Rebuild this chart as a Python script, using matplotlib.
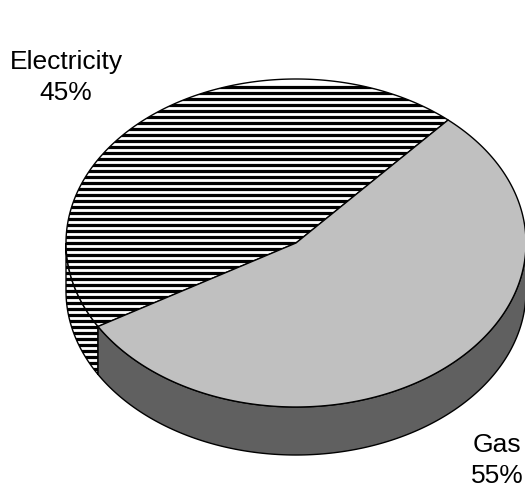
import numpy as np
import matplotlib
matplotlib.use("Agg")
import matplotlib.pyplot as plt
from matplotlib.patches import PathPatch
from matplotlib.path import Path

labels = ["Electricity", "Gas"]
shares = [45, 55]
start_angle = 48.6

CX, CY, RX, RY, DEPTH = 296.0, 243.0, 230.0, 164.0, 48.0
TOP_COLORS = {"Gas": "#c0c0c0"}
SIDE_COLORS = {"Gas": "#606060"}
STRIPE_PERIOD = 6.0

plt.rcParams["font.family"] = ["Liberation Sans", "DejaVu Sans"]
fig = plt.figure(figsize=(5.25, 4.88), dpi=100)
ax = fig.add_axes([0, 0, 1, 1])
ax.set_xlim(0, 525)
ax.set_ylim(488, 0)
ax.axis("off")


def rim(a0, a1, dy=0.0, n=200):
    t = np.radians(np.linspace(a0, a1, n))
    return np.column_stack([CX + RX * np.cos(t), CY + dy - RY * np.sin(t)])


def closed(points):
    codes = [Path.MOVETO] + [Path.LINETO] * (len(points) - 2) + [Path.CLOSEPOLY]
    return Path(points, codes)


def stripes(path, zorder):
    patch = PathPatch(path, fc="white", ec="none", zorder=zorder)
    ax.add_patch(patch)
    rows = np.arange(CY - RY + 7.7, CY + RY + DEPTH, STRIPE_PERIOD)
    lines = ax.hlines(rows, CX - RX - 2, CX + RX + 2, colors="black",
                      linewidth=2.3, zorder=zorder + 0.1)
    lines.set_clip_path(patch)


e_start = start_angle
e_end = e_start + shares[0] * 3.6
g_end = e_end + shares[1] * 3.6

# Side wall of the electricity wedge, visible on the lower left only
wall_e = np.vstack([rim(180, e_end), rim(e_end, 180, DEPTH)])
stripes(closed(np.vstack([wall_e, wall_e[:1]])), 1)
ax.add_patch(PathPatch(closed(np.vstack([wall_e, wall_e[:1]])), fc="none", ec="black", lw=1.0, zorder=2))

# Side wall of the gas wedge
wall_g = np.vstack([rim(e_end, 360), rim(360, e_end, DEPTH)])
ax.add_patch(PathPatch(closed(np.vstack([wall_g, wall_g[:1]])),
                       fc=SIDE_COLORS["Gas"], ec="black", lw=1.0, zorder=2))

# Top faces
top_e = np.vstack([[[CX, CY]], rim(e_start, e_end), [[CX, CY]]])
stripes(closed(top_e), 3)
ax.add_patch(PathPatch(closed(top_e), fc="none", ec="black", lw=1.0, zorder=4))
top_g = np.vstack([[[CX, CY]], rim(e_end, g_end), [[CX, CY]]])
ax.add_patch(PathPatch(closed(top_g), fc=TOP_COLORS["Gas"], ec="black", lw=1.0, zorder=4))

ax.text(66, 77.5, f"{labels[0]}\n{shares[0]}%", ha="center", va="center",
        fontsize=19, linespacing=1.38, zorder=5)
ax.text(497, 460.5, f"{labels[1]}\n{shares[1]}%", ha="center", va="center",
        fontsize=19, linespacing=1.38, zorder=5)

fig.savefig("out.png", dpi=100)
